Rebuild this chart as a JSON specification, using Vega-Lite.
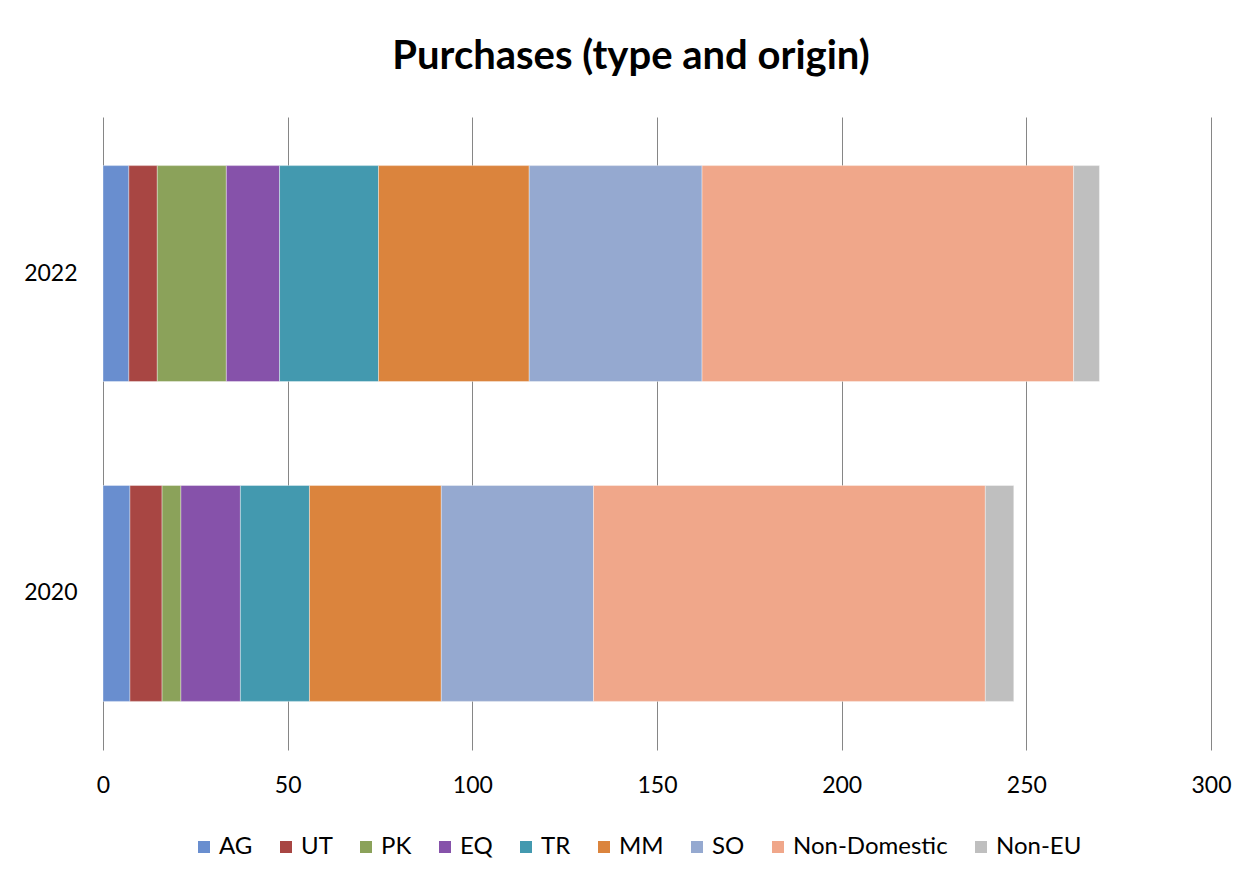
{
  "$schema": "https://vega.github.io/schema/vega-lite/v6.json",
  "width": 1108,
  "height": 633,
  "autosize": {"type": "none"},
  "padding": {"left": 103, "top": 117, "right": 47, "bottom": 131},
  "background": "white",
  "title": {
    "text": "Purchases (type and origin)",
    "font": "Lato",
    "fontSize": 40,
    "fontWeight": "bold",
    "color": "#000000",
    "anchor": "middle",
    "frame": "group",
    "baseline": "alphabetic",
    "offset": 8,
    "dx": -26
  },
  "data": {
    "values": [
      {"year": "2022", "type": "AG", "k": 1, "value": 7.0},
      {"year": "2022", "type": "UT", "k": 2, "value": 7.7},
      {"year": "2022", "type": "PK", "k": 3, "value": 18.7},
      {"year": "2022", "type": "EQ", "k": 4, "value": 14.4},
      {"year": "2022", "type": "TR", "k": 5, "value": 26.8},
      {"year": "2022", "type": "MM", "k": 6, "value": 40.8},
      {"year": "2022", "type": "SO", "k": 7, "value": 46.8},
      {"year": "2022", "type": "Non-Domestic", "k": 8, "value": 100.6},
      {"year": "2022", "type": "Non-EU", "k": 9, "value": 7.0},
      {"year": "2020", "type": "AG", "k": 1, "value": 7.3},
      {"year": "2020", "type": "UT", "k": 2, "value": 8.7},
      {"year": "2020", "type": "PK", "k": 3, "value": 5.1},
      {"year": "2020", "type": "EQ", "k": 4, "value": 16.1},
      {"year": "2020", "type": "TR", "k": 5, "value": 18.7},
      {"year": "2020", "type": "MM", "k": 6, "value": 35.7},
      {"year": "2020", "type": "SO", "k": 7, "value": 41.2},
      {"year": "2020", "type": "Non-Domestic", "k": 8, "value": 106.1},
      {"year": "2020", "type": "Non-EU", "k": 9, "value": 7.7}
    ]
  },
  "mark": {"type": "bar", "stroke": "white", "strokeWidth": 0.6, "strokeOpacity": 0.6},
  "encoding": {
    "y": {
      "field": "year",
      "type": "nominal",
      "sort": ["2022", "2020"],
      "scale": {"paddingInner": 0.325, "paddingOuter": 0.152},
      "axis": {
        "title": null,
        "domain": false,
        "ticks": false,
        "grid": false,
        "labelFont": "Lato",
        "labelFontSize": 23,
        "labelColor": "#000000",
        "labelPadding": 26
      }
    },
    "x": {
      "field": "value",
      "type": "quantitative",
      "stack": "zero",
      "scale": {"domain": [0, 300], "nice": false},
      "axis": {
        "title": null,
        "values": [0, 50, 100, 150, 200, 250, 300],
        "domain": false,
        "ticks": false,
        "grid": true,
        "gridColor": "#868686",
        "gridWidth": 1,
        "gridOpacity": 1,
        "labelFont": "Lato",
        "labelFontSize": 23,
        "labelColor": "#000000",
        "labelPadding": 24,
        "labelFlush": false
      }
    },
    "color": {
      "field": "type",
      "type": "nominal",
      "scale": {
        "domain": ["AG", "UT", "PK", "EQ", "TR", "MM", "SO", "Non-Domestic", "Non-EU"],
        "range": ["#698ECF", "#A84643", "#8BA25A", "#8652AA", "#4399AF", "#DB843D", "#95A9D0", "#F0A78A", "#BFBFBF"]
      },
      "legend": {
        "title": null,
        "orient": "none",
        "direction": "horizontal",
        "legendX": 89,
        "legendY": 718,
        "symbolType": "square",
        "symbolSize": 144,
        "symbolStrokeWidth": 0,
        "symbolOpacity": 1,
        "labelFont": "Lato",
        "labelFontSize": 24,
        "labelColor": "#000000",
        "labelOffset": 3,
        "columnPadding": 21
      }
    },
    "order": {"field": "k", "type": "quantitative"}
  },
  "config": {
    "view": {"stroke": null}
  }
}
